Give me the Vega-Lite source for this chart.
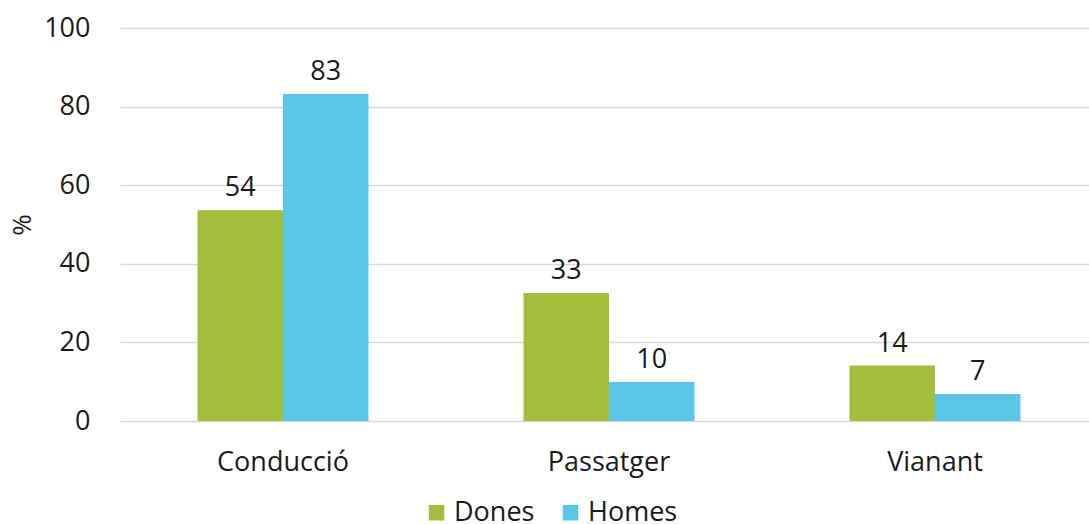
{
  "$schema": "https://vega.github.io/schema/vega-lite/v6.json",
  "width": 978,
  "height": 393,
  "autosize": "none",
  "padding": {"left": 120, "top": 28, "right": 0, "bottom": 103},
  "background": "white",
  "config": {
    "font": "Open Sans",
    "view": {"stroke": null},
    "text": {"font": "Open Sans"}
  },
  "data": {
    "values": [
      {"categoria": "Conducció", "sexe": "Dones", "valor": 53.6},
      {"categoria": "Conducció", "sexe": "Homes", "valor": 83.2},
      {"categoria": "Passatger", "sexe": "Dones", "valor": 32.6},
      {"categoria": "Passatger", "sexe": "Homes", "valor": 9.9},
      {"categoria": "Vianant", "sexe": "Dones", "valor": 14.1},
      {"categoria": "Vianant", "sexe": "Homes", "valor": 6.9}
    ]
  },
  "encoding": {
    "x": {
      "field": "categoria",
      "type": "nominal",
      "sort": ["Conducció", "Passatger", "Vianant"],
      "scale": {"paddingInner": 0.4755, "paddingOuter": 0.23775},
      "axis": {
        "title": null,
        "labelAngle": 0,
        "labelFontSize": 27,
        "labelColor": "#1a1a1a",
        "labelPadding": 28,
        "ticks": false,
        "domain": false
      }
    },
    "xOffset": {"field": "sexe", "type": "nominal", "sort": ["Dones", "Homes"], "scale": {"paddingInner": 0, "paddingOuter": 0}},
    "y": {
      "field": "valor",
      "type": "quantitative",
      "scale": {"domain": [0, 100]},
      "axis": {
        "title": "%",
        "titleFontSize": 26,
        "titleFontWeight": "normal",
        "titleColor": "#1a1a1a",
        "titlePadding": 8,
        "values": [0, 20, 40, 60, 80, 100],
        "labelFontSize": 27,
        "labelColor": "#1a1a1a",
        "labelPadding": 30,
        "ticks": false,
        "domain": false,
        "gridColor": "#d9d9d9",
        "gridWidth": 1.5
      }
    }
  },
  "layer": [
    {
      "mark": {"type": "bar"},
      "encoding": {
        "color": {
          "field": "sexe",
          "type": "nominal",
          "sort": ["Dones", "Homes"],
          "scale": {"domain": ["Dones", "Homes"], "range": ["#A2BE3A", "#5BC7E8"]},
          "legend": {
            "title": null,
            "orient": "none",
            "direction": "horizontal",
            "legendX": 303,
            "legendY": 471,
            "symbolType": "square",
            "symbolSize": 240,
            "symbolStrokeWidth": 0,
            "labelFontSize": 27,
            "labelColor": "#1a1a1a",
            "labelOffset": 4,
            "columnPadding": 22
          }
        }
      }
    },
    {
      "mark": {"type": "text", "baseline": "bottom", "dy": -8, "fontSize": 27, "color": "#1a1a1a"},
      "encoding": {
        "text": {"field": "valor", "type": "quantitative", "format": ".0f"}
      }
    }
  ]
}
